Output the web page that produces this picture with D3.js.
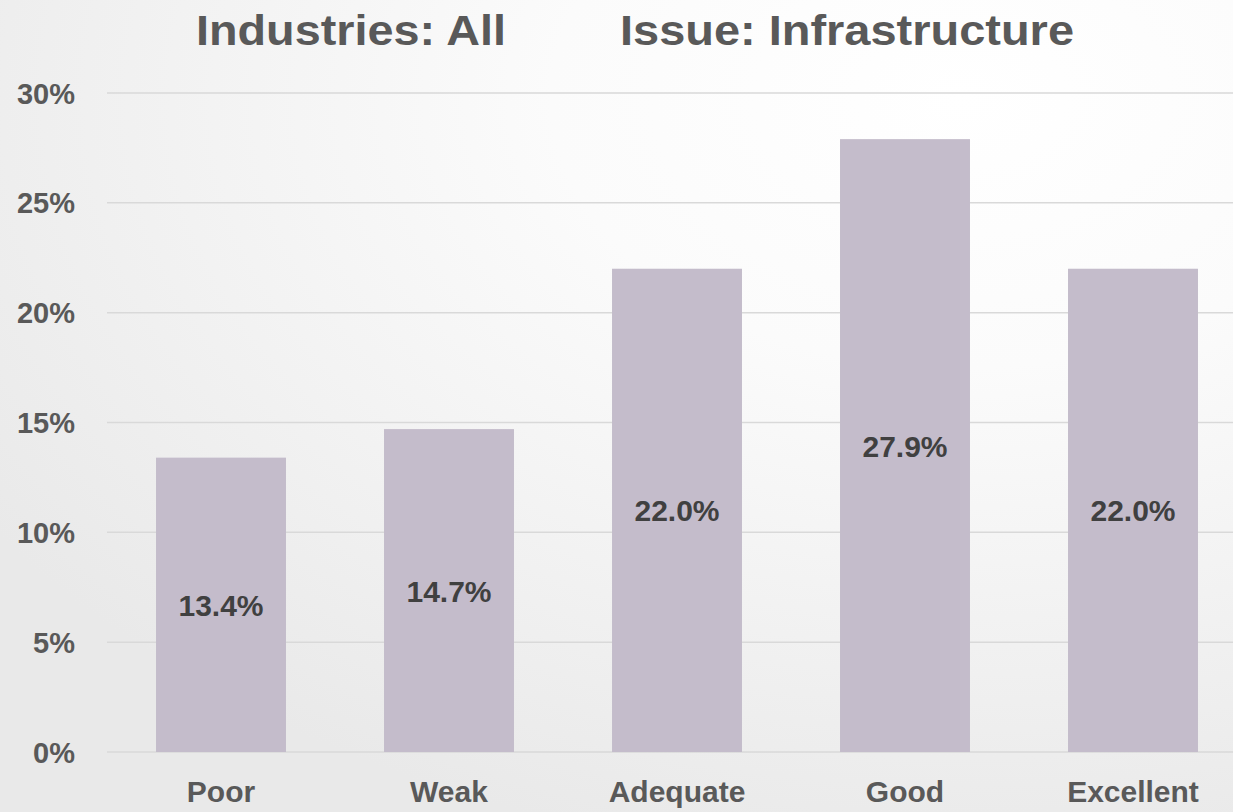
<!DOCTYPE html>
<html>
<head>
<meta charset="utf-8">
<script src="https://cdn.jsdelivr.net/npm/d3@7"></script>
<style>
  html, body { margin: 0; padding: 0; }
  svg { display: block; }
</style>
</head>
<body>
<script>
// Share of respondents by infrastructure rating
const categories = ["Poor", "Weak", "Adequate", "Good", "Excellent"];
const values = [13.4, 14.7, 22.0, 27.9, 22.0];
const yTicks = [0, 5, 10, 15, 20, 25, 30];
const titleParts = ["Industries: All", "Issue: Infrastructure"];

const W = 1233, H = 812;
const font = "'Liberation Sans', Arial, sans-serif";

const svg = d3.select("body").append("svg")
  .attr("width", W).attr("height", H);

// soft background: white towards the upper right, light grey elsewhere
const defs = svg.append("defs");
const grad = defs.append("radialGradient")
  .attr("id", "bg").attr("cx", "0.78").attr("cy", "0.12").attr("r", "0.95")
  .attr("gradientUnits", "objectBoundingBox");
grad.append("stop").attr("offset", "0").attr("stop-color", "#ffffff");
grad.append("stop").attr("offset", "0.35").attr("stop-color", "#fbfbfb");
grad.append("stop").attr("offset", "1").attr("stop-color", "#e9e9e9");
svg.append("rect").attr("width", W).attr("height", H).attr("fill", "url(#bg)");

const x = d3.scaleBand()
  .domain(categories)
  .range([107, 1247])
  .paddingInner(0.43)
  .paddingOuter(0.215);

const y = d3.scaleLinear().domain([0, 30]).range([752, 93]);

// gridlines
svg.append("g")
  .selectAll("line")
  .data(yTicks)
  .join("line")
  .attr("x1", 107).attr("x2", W)
  .attr("y1", d => y(d)).attr("y2", d => y(d))
  .attr("stroke", "#d9d9d9").attr("stroke-width", 1.5);

// y tick labels
svg.append("g")
  .selectAll("text")
  .data(yTicks)
  .join("text")
  .attr("x", 75).attr("y", d => y(d) + 10.5)
  .attr("text-anchor", "end")
  .attr("font-family", font).attr("font-weight", "bold")
  .attr("font-size", 29).attr("fill", "#595959")
  .text(d => d + "%");

// bars
svg.append("g")
  .selectAll("rect")
  .data(values)
  .join("rect")
  .attr("x", (d, i) => x(categories[i]))
  .attr("width", x.bandwidth())
  .attr("y", d => y(d))
  .attr("height", d => y(0) - y(d))
  .attr("fill", "#c4bccb");

// value labels at bar middle
svg.append("g")
  .selectAll("text")
  .data(values)
  .join("text")
  .attr("x", (d, i) => x(categories[i]) + x.bandwidth() / 2)
  .attr("y", d => (y(d) + y(0)) / 2 + 11)
  .attr("text-anchor", "middle")
  .attr("font-family", font).attr("font-weight", "bold")
  .attr("font-size", 30).attr("fill", "#404040")
  .text(d => d.toFixed(1) + "%");

// category labels
svg.append("g")
  .selectAll("text")
  .data(categories)
  .join("text")
  .attr("x", d => x(d) + x.bandwidth() / 2)
  .attr("y", 802)
  .attr("text-anchor", "middle")
  .attr("font-family", font).attr("font-weight", "bold")
  .attr("font-size", 30).attr("fill", "#595959")
  .text(d => d);

// title, two parts on one line
const titleX = [196, 620];
const titleW = [310, 454];
svg.append("g")
  .selectAll("text")
  .data(titleParts)
  .join("text")
  .attr("x", (d, i) => titleX[i])
  .attr("y", 45)
  .attr("textLength", (d, i) => titleW[i])
  .attr("lengthAdjust", "spacingAndGlyphs")
  .attr("font-family", font).attr("font-weight", "bold")
  .attr("font-size", 42).attr("fill", "#595959")
  .text(d => d);
</script>
</body>
</html>
